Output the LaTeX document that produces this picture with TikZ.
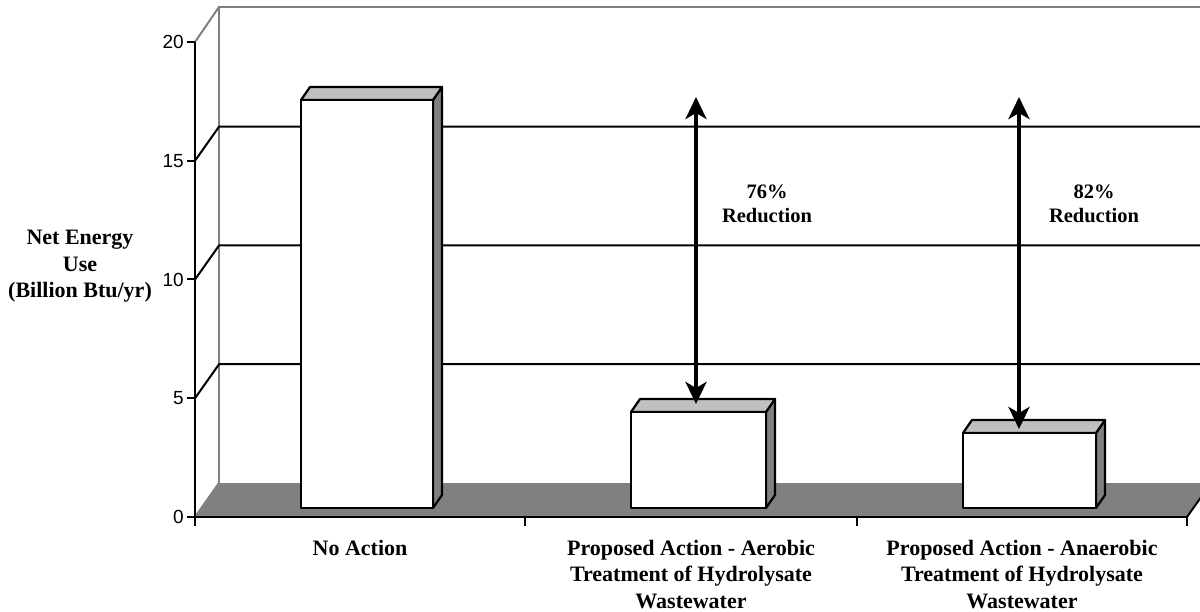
\documentclass[tikz,border=0pt]{standalone}
\usepackage{fontspec}
\setmainfont{Liberation Serif}
\newfontfamily\arialfont{Liberation Sans}
\usetikzlibrary{arrows.meta}
\definecolor{floorgray}{HTML}{808080}
\definecolor{topgray}{HTML}{C0C0C0}
\definecolor{wallgray}{HTML}{808080}
\begin{document}
\begin{tikzpicture}[x=1pt,y=-1pt,
  lbl/.style={font=\fontsize{22}{26.5}\selectfont\bfseries, align=center, inner sep=0pt, anchor=north},
  redlbl/.style={font=\fontsize{20.5}{23.5}\selectfont\bfseries, align=center, inner sep=0pt, anchor=north},
  ticklbl/.style={font=\arialfont\fontsize{19}{22}\selectfont, anchor=east, inner sep=0pt},
  gridline/.style={line width=2pt, black},
  wallline/.style={line width=2pt, draw=wallgray},
  axisline/.style={line width=2.5pt, black},
  barfront/.style={fill=white, draw=black, line width=2.2pt, line join=round},
  bartop/.style={fill=topgray, draw=black, line width=2.2pt, line join=round},
  barside/.style={fill=floorgray, draw=black, line width=2.2pt, line join=round},
  dblarrow/.style={line width=4pt, {Stealth[length=22pt,width=21pt,inset=6pt]}-{Stealth[length=22pt,width=21pt,inset=6pt]}}
]
\useasboundingbox (0,0) rectangle (1200,612);
\begin{scope}
\clip (0,0) rectangle (1200,612);
% floor
\fill[floorgray] (195,517) -- (219,483) -- (1211,483) -- (1187,517) -- cycle;
\draw[line width=2pt, black] (1187,517) -- (1211,483);
% back wall
\draw[wallline] (219,483) -- (219,7) -- (1211,7);
\draw[wallline] (195,42) -- (219,7);
\draw[wallline] (195,517) -- (219,483);
% grid lines
\foreach \v in {5,10,15} {
  \draw[gridline] (195,{517-\v*23.75}) -- (219,{483-\v*23.75}) -- (1211,{483-\v*23.75});
}
% bars
\newcommand{\drawbar}[3]{% x1, x2, top
  \draw[barside] (#2,#3) -- (#2+9,#3-13) -- (#2+9,495) -- (#2,508) -- cycle;
  \draw[bartop] (#1,#3) -- (#1+9,#3-13) -- (#2+9,#3-13) -- (#2,#3) -- cycle;
  \draw[barfront] (#1,#3) rectangle (#2,508);
}
\drawbar{301}{433}{100}
\drawbar{631}{766}{412}
\drawbar{963}{1096}{433}
\end{scope}
% axes
\draw[axisline] (195,42) -- (195,517) -- (1187,517);
\foreach \v in {0,5,10,15,20} {
  \draw[line width=2pt] (187,{517-\v*23.75}) -- (195,{517-\v*23.75});
  \node[ticklbl] at (184,{517-\v*23.75}) {\v};
}
\foreach \x in {195,525,857,1187} {
  \draw[line width=2pt] (\x,517) -- (\x,526);
}
% arrows
\coordinate (a1top) at (696,97);
\coordinate (a1bot) at (696,404);
\coordinate (a2top) at (1019,97);
\coordinate (a2bot) at (1019,429);
\draw[dblarrow] (a1bot) -- (a1top);
\draw[dblarrow] (a2bot) -- (a2top);
% labels
\node[redlbl] (r1) at (767,185) {76\%\\Reduction};
\node[redlbl] (r2) at (1094,185) {82\%\\Reduction};
\node[lbl] (ytitle) at (80,230) {Net Energy\\Use\\(Billion Btu/yr)};
\node[lbl] (c1) at (360,540) {No Action};
\node[lbl] (c2) at (691,540) {Proposed Action - Aerobic\\Treatment of Hydrolysate\\Wastewater};
\node[lbl] (c3) at (1022,540) {Proposed Action - Anaerobic\\Treatment of Hydrolysate\\Wastewater};
\end{tikzpicture}
\end{document}
